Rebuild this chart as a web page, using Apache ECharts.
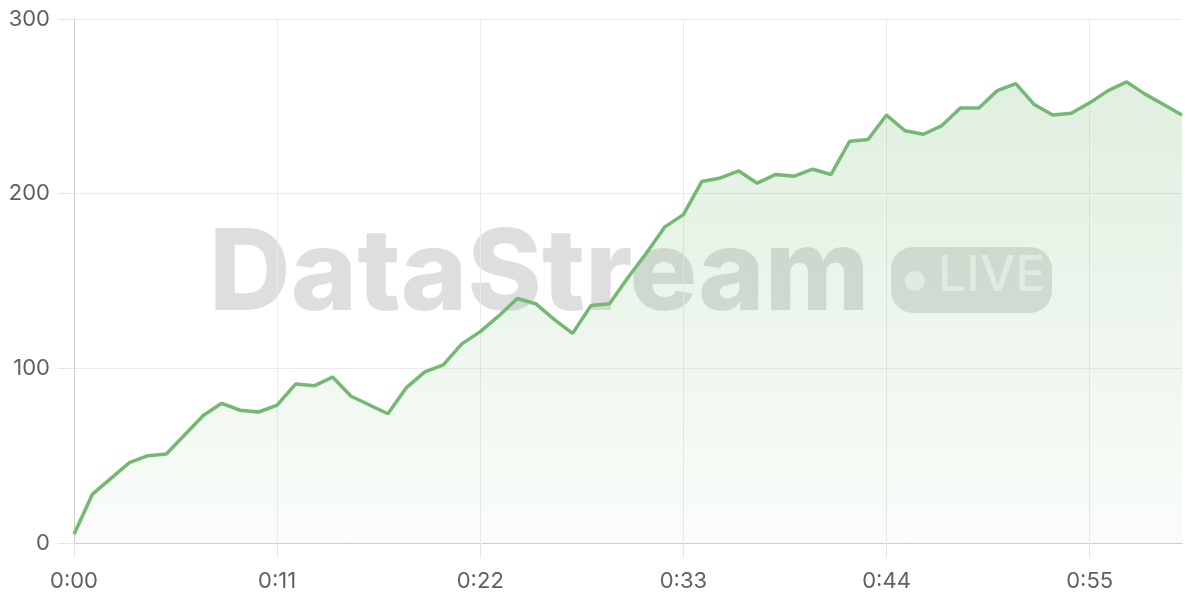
<!DOCTYPE html>
<html>
<head>
<meta charset="utf-8">
<script src="https://cdn.jsdelivr.net/npm/echarts@6/dist/echarts.min.js"></script>
<style>
  html, body { margin: 0; padding: 0; background: #ffffff; }
  #main { width: 1200px; height: 600px; }
</style>
</head>
<body>
<div id="main"></div>
<script>
// elapsed time labels, one per second
var timeLabels = [];
for (var s = 0; s <= 60; s++) {
  timeLabels.push(Math.floor(s / 60) + ':' + String(s % 60).padStart(2, '0'));
}

// stream values
var streamValues = [
  5, 28, 37, 46, 50, 51, 62, 73, 80, 76,
  75, 79, 91, 90, 95, 84, 79, 74, 89, 98,
  102, 114, 121, 130, 140, 137, 128, 120, 136, 137,
  152, 166, 181, 188, 207, 209, 213, 206, 211, 210,
  214, 211, 230, 231, 245, 236, 234, 239, 249, 249,
  259, 263, 251, 245, 246, 252, 259, 264, 257, 251,
  245
];

var yTicks = [0, 100, 200, 300];

var lineColor = '#74b972';
var font = 'Inter, "Noto Sans", sans-serif';

var myChart = echarts.init(document.getElementById('main'));

var option = {
  animation: false,
  grid: {
    left: 74,
    right: 18,
    top: 19,
    bottom: 57
  },
  graphic: [
    {
      type: 'text',
      z: 0,
      left: 209,
      top: 220,
      style: {
        text: 'DataStream',
        font: '800 113px ' + font,
        fill: 'rgba(0,0,0,0.13)'
      }
    },
    {
      type: 'rect',
      z: 0,
      shape: { x: 891, y: 247, width: 161, height: 66, r: 22 },
      style: { fill: 'rgba(0,0,0,0.12)' }
    },
    {
      type: 'circle',
      z: 0,
      shape: { cx: 915, cy: 281, r: 10 },
      style: { fill: 'rgba(255,255,255,0.6)' }
    },
    {
      type: 'text',
      z: 0,
      left: 938,
      top: 251,
      style: {
        text: 'LIVE',
        font: '500 50px ' + font,
        fill: 'rgba(255,255,255,0.6)'
      }
    }
  ],
  xAxis: {
    type: 'category',
    boundaryGap: false,
    data: timeLabels,
    axisLine: { lineStyle: { color: '#cccccc', width: 1 } },
    axisTick: {
      show: true,
      interval: 10,
      length: 15,
      lineStyle: { color: '#e6e6e6' }
    },
    axisLabel: {
      interval: 10,
      color: '#606060',
      fontSize: 22,
      fontFamily: font,
      margin: 27
    },
    splitLine: {
      show: true,
      interval: 10,
      lineStyle: { color: '#ebebeb' }
    }
  },
  yAxis: {
    type: 'value',
    min: yTicks[0],
    max: yTicks[yTicks.length - 1],
    interval: 100,
    axisLine: { show: true, lineStyle: { color: '#cccccc', width: 1 } },
    axisTick: {
      show: true,
      length: 16,
      lineStyle: { color: '#e6e6e6' }
    },
    axisLabel: {
      color: '#606060',
      fontSize: 22,
      fontFamily: font,
      margin: 24
    },
    splitLine: { lineStyle: { color: '#ebebeb' } }
  },
  series: [
    {
      type: 'line',
      data: streamValues,
      symbol: 'none',
      lineStyle: { color: lineColor, width: 3.5 },
      areaStyle: {
        color: new echarts.graphic.LinearGradient(0, 0, 0, 1, [
          { offset: 0, color: 'rgba(116,185,114,0.32)' },
          { offset: 1, color: 'rgba(116,185,114,0.05)' }
        ])
      }
    }
  ]
};

myChart.setOption(option);
</script>
</body>
</html>
